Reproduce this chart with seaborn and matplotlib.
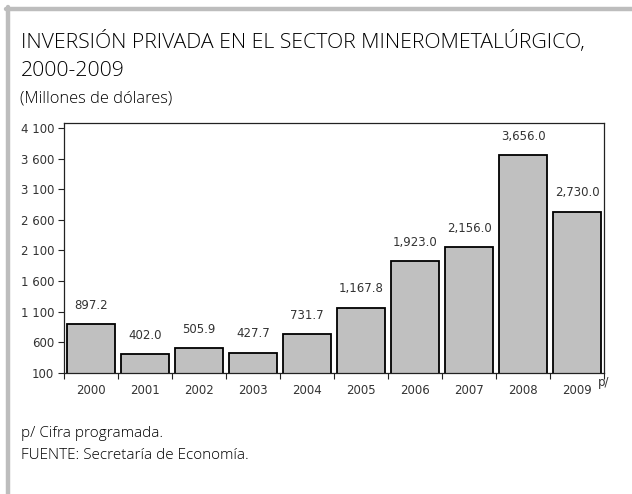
import matplotlib
matplotlib.use("Agg")
import matplotlib.pyplot as plt
import seaborn as sns
import pandas as pd
from matplotlib.lines import Line2D

years = ["2000", "2001", "2002", "2003", "2004", "2005", "2006", "2007", "2008", "2009"]
values = [897.2, 402.0, 505.9, 427.7, 731.7, 1167.8, 1923.0, 2156.0, 3656.0, 2730.0]
ytick_values = [100, 600, 1100, 1600, 2100, 2600, 3100, 3600, 4100]
ytick_labels = ["100", "600", "1 100", "1 600", "2 100", "2 600", "3 100", "3 600", "4 100"]

title_line1 = "INVERSIÓN PRIVADA EN EL SECTOR MINEROMETALÚRGICO,"
title_line2 = "2000-2009"
subtitle_text = "(Millones de dólares)"
note_text = "p/ Cifra programada."
source_text = "FUENTE: Secretaría de Economía."

sns.set_theme(style="white")
plt.rcParams["font.family"] = ["DejaVu Sans"]

df = pd.DataFrame({"year": years, "value": values})

W, H = 632, 494
fig = plt.figure(figsize=(W / 100, H / 100), dpi=100)
ax = fig.add_axes([64 / W, 1 - 373 / H, (604 - 64) / W, (373 - 123) / H])

sns.barplot(data=df, x="year", y="value", color="#c0c0c0", edgecolor="black",
            linewidth=1.3, width=0.9, saturation=1, ax=ax)

ax.set_ylim(100, 4180)
ax.set_xlim(-0.5, len(years) - 0.5)
ax.set_yticks(ytick_values)
ax.set_yticklabels(ytick_labels)
ax.set_xlabel("")
ax.set_ylabel("")

# x tick marks at category boundaries, labels centered
ax.set_xticks([i - 0.5 for i in range(len(years) + 1)], minor=False)
ax.set_xticklabels([""] * (len(years) + 1))
ax.set_xticks(range(len(years)), minor=True)
ax.set_xticklabels(years, minor=True)
ax.tick_params(axis="x", which="major", direction="out", length=4, width=0.8, color="#222222", bottom=True)
ax.tick_params(axis="x", which="minor", length=0, pad=8, labelsize=8.5, labelcolor="#333333")
ax.tick_params(axis="y", direction="out", length=4, width=0.8, color="#222222", left=True,
               labelsize=8.5, labelcolor="#333333", pad=3)

for s in ax.spines.values():
    s.set_visible(True)
    s.set_color("#222222")
    s.set_linewidth(0.9)

for i, v in enumerate(values):
    ax.annotate(f"{v:,.1f}", (i, v), xytext=(0, 9), textcoords="offset points",
                ha="center", va="bottom", fontsize=8.5, color="#333333")

# p/ superscript next to 2009
fig.text(598 / W, 1 - 386 / H, "p/", fontsize=8.5, color="#333333", ha="left", va="baseline")

# frame
fig.add_artist(Line2D([6 / W, 1], [1 - 9 / H, 1 - 9 / H], color="#bdbdbd", linewidth=3.2,
                      transform=fig.transFigure))
fig.add_artist(Line2D([8 / W, 8 / W], [1 - 7 / H, 0], color="#bdbdbd", linewidth=3.2,
                      transform=fig.transFigure))

tf = ["Open Sans", "DejaVu Sans"]
fig.text(21 / W, 1 - 48 / H, title_line1, fontsize=15.3, family=tf, color="#000000",
         ha="left", va="baseline", fontweight="light")
fig.text(21 / W, 1 - 76 / H, title_line2, fontsize=15.3, family=tf, color="#000000",
         ha="left", va="baseline", fontweight="light")
fig.text(20 / W, 1 - 102 / H, subtitle_text, fontsize=11.8, family=tf, color="#000000",
         ha="left", va="baseline", fontweight="light")
fig.text(21 / W, 1 - 437 / H, note_text, fontsize=11, family=tf, color="#000000",
         ha="left", va="baseline", fontweight="light")
fig.text(21 / W, 1 - 459 / H, source_text, fontsize=11, family=tf, color="#000000",
         ha="left", va="baseline", fontweight="light")

fig.savefig("out.png", dpi=100, facecolor="white")
